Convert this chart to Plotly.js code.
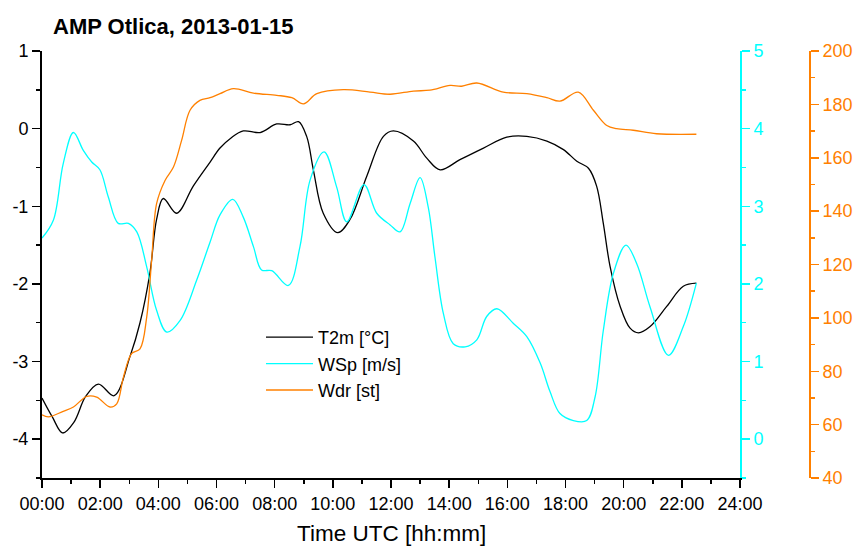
<!DOCTYPE html>
<html>
<head>
<meta charset="utf-8">
<script src="https://cdn.plot.ly/plotly-3.0.1.min.js"></script>
<style>html,body{margin:0;padding:0;background:#fff;}</style>
</head>
<body>
<div id="chart" style="width:857px;height:546px;"></div>
<script>
// Time in hours (UTC)
const tHours = [0, 0.35, 0.71, 1.1, 1.5, 1.94, 2.48, 3.03, 3.37, 3.71, 3.94, 4.17, 4.63, 5.2, 5.78, 6.12, 6.5, 6.92, 7.5, 8.07, 8.53, 8.82, 9.1, 9.33, 9.67, 10.17, 10.59, 11.17, 11.74, 12.08, 12.77, 13.23, 13.69, 14.37, 15.18, 15.98, 16.67, 17.36, 17.93, 18.39, 18.79, 19.07, 19.3, 19.53, 19.88, 20.22, 20.51, 20.91, 21.48, 22.05, 22.5];
const t2m = [-3.47, -3.71, -3.92, -3.78, -3.45, -3.29, -3.44, -2.93, -2.50, -1.86, -1.17, -0.90, -1.09, -0.74, -0.43, -0.25, -0.12, -0.03, -0.05, 0.06, 0.05, 0.09, -0.10, -0.53, -1.09, -1.34, -1.17, -0.61, -0.10, -0.03, -0.16, -0.38, -0.53, -0.40, -0.25, -0.11, -0.10, -0.16, -0.27, -0.42, -0.51, -0.74, -1.22, -1.77, -2.29, -2.57, -2.63, -2.55, -2.29, -2.03, -1.99];

const wHours = [0, 0.39, 0.73, 1.08, 1.42, 1.71, 1.99, 2.28, 2.62, 2.97, 3.26, 3.6, 3.94, 4.29, 4.75, 5.32, 5.78, 6.12, 6.56, 6.92, 7.27, 7.55, 7.9, 8.47, 8.87, 9.22, 9.7, 10.13, 10.48, 11.07, 11.51, 11.97, 12.31, 12.66, 13.0, 13.28, 13.51, 13.8, 14.14, 14.55, 14.95, 15.29, 15.64, 16.21, 16.67, 17.13, 17.47, 17.81, 18.27, 18.73, 19.02, 19.3, 19.65, 20.08, 20.45, 20.91, 21.54, 22.05, 22.5];
const wsp = [2.59, 2.82, 3.55, 3.95, 3.72, 3.57, 3.47, 3.12, 2.78, 2.78, 2.67, 2.22, 1.66, 1.38, 1.53, 2.05, 2.54, 2.89, 3.09, 2.86, 2.48, 2.18, 2.17, 1.98, 2.48, 3.34, 3.70, 3.25, 2.80, 3.28, 2.91, 2.76, 2.67, 3.04, 3.37, 2.99, 2.35, 1.62, 1.23, 1.19, 1.28, 1.58, 1.68, 1.49, 1.32, 0.98, 0.61, 0.33, 0.24, 0.24, 0.55, 1.40, 2.14, 2.50, 2.26, 1.70, 1.08, 1.45, 2.01];

const dHours = [0, 0.22, 0.73, 1.08, 1.54, 1.88, 2.34, 2.57, 2.8, 3.08, 3.37, 3.6, 3.77, 3.94, 4.23, 4.52, 4.8, 5.09, 5.43, 5.78, 6.12, 6.58, 7.27, 8.07, 8.59, 8.99, 9.45, 10.36, 11.28, 11.97, 12.77, 13.34, 14.03, 14.43, 14.95, 15.86, 16.67, 17.36, 17.81, 18.44, 18.96, 19.42, 19.76, 20.33, 21.13, 22.5];
const wdr = [63.7, 62.9, 65.0, 66.6, 70.6, 70.3, 66.6, 67.8, 77.8, 86.6, 88.4, 100.3, 121.6, 142.8, 151.5, 156.5, 166.5, 177.8, 181.5, 182.5, 184.0, 185.9, 184.2, 183.4, 182.5, 180.2, 184.0, 185.5, 184.6, 183.8, 185.0, 185.3, 187.1, 186.8, 188.0, 184.6, 184.0, 182.5, 181.2, 184.6, 177.8, 172.1, 170.9, 170.3, 169.0, 168.8];

const xTickVals = [0, 2, 4, 6, 8, 10, 12, 14, 16, 18, 20, 22, 24];
const xTickText = ["00:00", "02:00", "04:00", "06:00", "08:00", "10:00", "12:00", "14:00", "16:00", "18:00", "20:00", "22:00", "24:00"];
const tTickVals = [-4, -3, -2, -1, 0, 1];
const tTickText = ["-4", "-3", "-2", "-1", "0", "1"];

const FONT = "Liberation Sans, Arial, sans-serif";
const CYAN = "#00FFFF";
const ORANGE = "#FF8000";

const traces = [
  {x: tHours, y: t2m, name: "T2m [°C]", type: "scatter", mode: "lines",
   line: {color: "#000000", width: 1.3, shape: "spline", smoothing: 1}, yaxis: "y"},
  {x: wHours, y: wsp, name: "WSp [m/s]", type: "scatter", mode: "lines",
   line: {color: CYAN, width: 1.3, shape: "spline", smoothing: 1}, yaxis: "y2"},
  {x: dHours, y: wdr, name: "Wdr [st]", type: "scatter", mode: "lines",
   line: {color: ORANGE, width: 1.3, shape: "spline", smoothing: 1}, yaxis: "y3"}
];

const layout = {
  width: 857, height: 546,
  margin: {l: 42, r: 20, t: 51, b: 68},
  paper_bgcolor: "#ffffff", plot_bgcolor: "#ffffff",
  font: {family: FONT, size: 18, color: "#000"},
  showlegend: true,
  title: {text: "<b>AMP Otlica, 2013-01-15</b>", font: {family: FONT, size: 22, color: "#000"},
          xref: "container", yref: "container", x: 53/857, xanchor: "left", y: 1 - 26/546, yanchor: "middle"},
  annotations: [{
    text: "Time UTC [hh:mm]", xref: "paper", yref: "paper",
    x: 349/795, y: (478-533)/427, xanchor: "center", yanchor: "middle",
    showarrow: false, font: {family: FONT, size: 22.5, color: "#000"}
  }],
  xaxis: {
    domain: [0, 698/795], range: [0, 24],
    tickmode: "array", tickvals: xTickVals, ticktext: xTickText,
    ticks: "outside", ticklen: 8, tickwidth: 1.5, tickcolor: "#000",
    minor: {tickmode: "linear", tick0: 0, dtick: 1, ticks: "outside", ticklen: 4, tickwidth: 1.5, tickcolor: "#000", showgrid: false},
    showline: true, linecolor: "#000", linewidth: 2,
    showgrid: false, zeroline: false,
    tickfont: {family: FONT, size: 18, color: "#000"}
  },
  yaxis: {
    range: [-4.5, 1],
    tickmode: "array", tickvals: tTickVals, ticktext: tTickText,
    ticks: "outside", ticklen: 8, tickwidth: 1.5, tickcolor: "#000",
    minor: {tickmode: "linear", tick0: 0, dtick: 0.5, ticks: "outside", ticklen: 4, tickwidth: 1.5, tickcolor: "#000", showgrid: false},
    showline: true, linecolor: "#000", linewidth: 2,
    showgrid: false, zeroline: false,
    tickfont: {family: FONT, size: 18, color: "#000"}
  },
  yaxis2: {
    overlaying: "y", side: "right", anchor: "x",
    range: [-0.5, 5], tickmode: "linear", tick0: 0, dtick: 1,
    ticks: "outside", ticklen: 8, tickwidth: 1.5, tickcolor: CYAN,
    minor: {tickmode: "linear", tick0: 0, dtick: 0.5, ticks: "outside", ticklen: 4, tickwidth: 1.5, tickcolor: CYAN, showgrid: false},
    showline: true, linecolor: CYAN, linewidth: 2,
    showgrid: false, zeroline: false,
    tickfont: {family: FONT, size: 18, color: CYAN}
  },
  yaxis3: {
    overlaying: "y", side: "right", anchor: "free", position: (810-42)/795,
    range: [40, 200], tickmode: "linear", tick0: 40, dtick: 20,
    ticks: "outside", ticklen: 8, tickwidth: 1.5, tickcolor: ORANGE,
    minor: {tickmode: "linear", tick0: 40, dtick: 10, ticks: "outside", ticklen: 4, tickwidth: 1.5, tickcolor: ORANGE, showgrid: false},
    showline: true, linecolor: ORANGE, linewidth: 2,
    showgrid: false, zeroline: false,
    tickfont: {family: FONT, size: 18, color: ORANGE}
  },
  legend: {
    x: (261-42)/795, y: (478-319)/427, xanchor: "left", yanchor: "top",
    bgcolor: "rgba(0,0,0,0)", borderwidth: 0,
    font: {family: FONT, size: 18, color: "#000"},
    itemwidth: 47, tracegroupgap: 0
  }
};

Plotly.newPlot("chart", traces, layout, {staticPlot: true, displayModeBar: false});
</script>
</body>
</html>
